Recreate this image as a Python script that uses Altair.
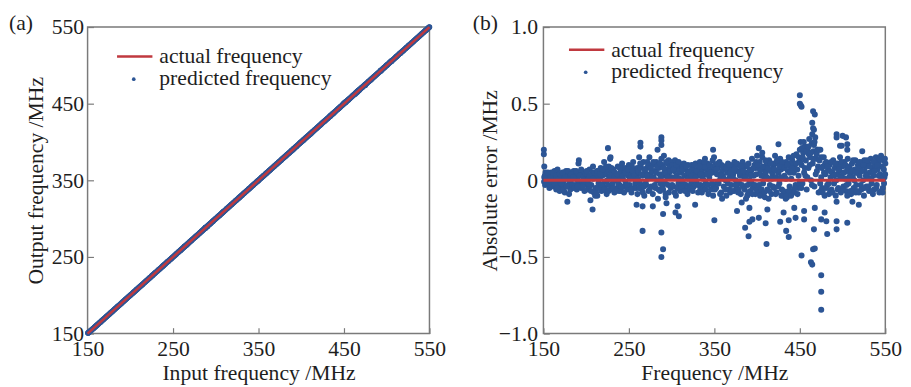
import altair as alt
import pandas as pd

FONT = "Liberation Serif"
BLUE = "#2c5595"
RED = "#c0393f"
FRAME = "#7a7a7a"
TXT = "#1e1e1e"

# actual frequency line (input = output)
actual_x = [150, 550]
tick_vals_x = [150, 250, 350, 450, 550]
tick_vals_err = [-1.0, -0.5, 0, 0.5, 1.0]

# predicted points: (input frequency MHz, absolute error MHz)
seg_150_200 = [(150.5,0.20),(150.5,0.17),(151,0.09),(151,0.02),(152,-0.03),(153,0.01),(154,0.04),(155,-0.01),(156,0.03),(157,-0.05),
    (158,0.00),(159,0.05),(160,-0.02),(161,0.02),(162,-0.04),(163,0.06),(164,0.01),(165,-0.06),(166,0.03),(167,-0.02),
    (168,0.04),(169,-0.07),(170,0.02),(152.5,0.05),(154.5,-0.02),(156.5,0.0),(158.5,-0.04),(160.5,0.04),(162.5,0.01),
    (164.5,-0.03),(166.5,0.07),(168.5,0.0),(171,-0.05),(172,0.03),(173,-0.01),(174,0.05),(175,-0.08),(176,0.01),(177,0.03),
    (178,-0.14),(178.5,-0.03),(179,0.04),(180,-0.09),(181,0.02),(182,-0.02),(183,0.05),(184,-0.05),(185,0.01),(186,0.04),
    (187,-0.03),(188,0.02),(189,-0.06),(190,0.0),(191,0.11),(191.5,0.13),(192,-0.02),(193,0.04),(194,-0.05),(195,0.03),
    (196,-0.01),(197,0.05),(198,-0.07),(199,0.02),(200,-0.03),(172.5,-0.03),(176.5,0.06),(181.5,-0.06),(185.5,0.06),
    (189.5,0.03),(195.5,-0.04),
    (150.8,-0.01),(151.7,0.03),(153.3,-0.02),(155.2,0.05),(156.8,-0.03),(158.2,0.02),(159.7,-0.01),(161.3,0.05),
    (163.2,-0.02),(164.8,0.03),(166.2,-0.05),(167.7,0.01),(169.3,0.04),(170.8,-0.02),(172.2,0.05),(173.7,-0.06),
    (175.3,0.02),(177.2,-0.04),(178.8,0.06),(180.3,0.0),(182.2,0.04),(183.7,-0.03),(184.8,0.02),(186.7,-0.05),
    (188.3,0.06),(190.2,-0.04),(192.7,0.03),(194.2,0.07),(196.7,0.02),(198.3,-0.01),(199.7,0.04)]
seg_200_260 = [(201,0.04),(202,-0.06),(203,0.01),(204,0.07),(205,-0.13),(206,-0.03),(207,0.05),(207.5,-0.19),(208,0.09),
    (209,-0.08),(210,0.02),(211,-0.05),(212,0.03),(213,-0.1),(214,0.06),(215,-0.02),(216,0.01),(217,0.08),(218,-0.07),
    (219,0.03),(220,-0.04),(221,0.12),(222,-0.01),(223,0.04),(224,-0.09),(225,0.06),(225.5,0.21),(226,-0.03),(227,0.02),
    (228,0.14),(228.5,0.15),(229,-0.06),(230,0.05),(203.5,-0.04),(206.5,0.02),(210.5,-0.1),(214.5,-0.02),(218.5,0.05),
    (222.5,-0.06),(226.5,0.09),(231,-0.02),(232,0.07),(233,-0.08),(234,0.03),(235,0.0),(236,-0.05),(237,0.09),(238,0.02),
    (239,-0.03),(240,0.05),(241,-0.07),(242,0.11),(243,0.01),(244,-0.04),(245,0.06),(246,-0.01),(247,0.08),(248,-0.06),
    (249,0.03),(250,0.1),(251,-0.03),(252,0.05),(253,-0.08),(254,0.02),(255,0.12),(256,-0.05),(257,0.07),(258,0.0),
    (259,0.04),(259,-0.16),(260,-0.09),(233.5,0.05),(238.5,-0.07),(243.5,0.08),(248.5,0.04),(253.5,0.09),(257.5,-0.02),
    (200.6,0.06),(202.4,-0.02),(204.3,0.03),(205.7,-0.07),(207.8,0.01),(209.4,0.05),(211.6,-0.08),(212.8,0.06),
    (214.2,-0.05),(216.3,0.04),(217.7,-0.03),(219.6,0.07),(221.4,-0.06),(223.2,0.09),(224.6,0.0),(226.2,-0.07),
    (228.7,0.03),(229.6,0.08),(231.4,-0.05),(232.8,0.02),(234.6,-0.07),(236.3,0.04),(237.7,-0.02),(239.4,0.08),
    (240.8,-0.04),(242.6,0.03),(244.3,-0.08),(246.4,0.05),(247.8,-0.03),(249.6,0.07),(251.3,0.01),(252.7,-0.06),
    (254.4,0.06),(256.3,0.03),(258.6,-0.05),(259.8,0.08)]
seg_260_300 = [(261,0.06),(262,0.15),(263,-0.02),(263.5,0.245),(263.5,0.22),(264,0.09),(265,-0.06),(266,0.03),(266,-0.33),
    (266,-0.17),(267,0.12),(268,-0.1),(269,0.05),(270,-0.03),(271,0.08),(272,0.01),(273,-0.07),(274,0.15),(275,0.04),
    (276,-0.04),(277,0.1),(278,-0.09),(278,-0.17),(279,0.02),(280,0.06),(281,-0.05),(282,0.12),(283,0.0),(283.5,0.20),
    (284,-0.12),(285,0.08),(286,0.04),(287,-0.02),(288,0.14),(288,0.28),(288,0.26),(288,0.23),(288,-0.34),(288,-0.50),
    (289,0.1),(290,-0.06),(290,-0.45),(290,-0.22),(291,0.16),(292,0.03),(293,-0.09),(293,-0.11),(294,-0.15),(294,0.07),
    (295,0.11),(296,-0.03),(297,0.05),(298,0.09),(299,-0.05),(300,0.02),(263.5,0.08),(267.5,-0.04),(271.5,0.12),
    (276.5,0.06),(281.5,0.1),(286.5,-0.07),(291.5,0.05),(296.5,0.13),
    (260.6,0.01),(261.8,-0.05),(263.2,0.11),(264.7,0.04),(266.3,-0.08),(268.4,0.07),(269.7,-0.02),(271.2,0.03),
    (272.6,0.1),(274.3,-0.06),(275.7,0.08),(277.4,0.02),(278.6,0.12),(280.3,-0.03),(281.8,0.05),(283.3,0.09),
    (284.7,-0.06),(286.2,0.11),(287.6,0.02),(289.3,-0.04),(290.7,0.08),(292.4,-0.02),(293.6,0.12),(295.3,0.02),
    (296.8,-0.08),(298.4,0.06),(299.6,0.12)]
seg_300_350 = [(301,0.1),(302,-0.04),(303,0.06),(304,0.13),(304.5,-0.21),(305,-0.1),(306,0.03),(307,0.08),(307,-0.17),
    (308,-0.02),(308.5,-0.235),(309,0.11),(310,-0.07),(311,0.05),(312,0.0),(313,0.09),(314,-0.05),(315,0.03),(316,0.07),
    (317,-0.03),(318,0.04),(319,0.1),(320,-0.06),(321,0.02),(322,0.06),(323,-0.02),(324,0.08),(325,0.01),(326,-0.04),
    (327,0.05),(327.5,-0.16),(328,0.11),(329,-0.01),(330,0.07),(331,-0.08),(332,0.03),(333,0.12),(334,-0.03),(335,0.06),
    (336,0.09),(337,-0.05),(338,0.04),(339,0.14),(340,-0.02),(341,0.07),(342,0.11),(343,-0.09),(344,0.02),(345,0.08),
    (346,-0.06),(347,0.05),(348,0.13),(348.5,0.20),(349,-0.03),(350,0.06),(350,-0.26),(303.5,-0.08),(308.5,0.06),
    (313.5,-0.02),(318.5,-0.09),(323.5,0.1),(328.5,0.04),(333.5,-0.06),(338.5,0.09),(343.5,0.05),(348.5,-0.1),
    (300.6,-0.03),(302.3,0.07),(303.8,0.02),(305.4,0.1),(306.7,-0.05),(308.2,0.12),(309.6,0.01),(311.3,-0.04),
    (312.7,0.07),(314.4,0.11),(315.7,-0.07),(317.3,0.09),(318.8,0.01),(320.4,0.05),(321.7,-0.05),(323.3,0.03),
    (324.7,-0.07),(326.4,0.1),(327.8,0.02),(329.4,0.06),(330.7,-0.03),(332.3,0.09),(333.8,0.04),(335.4,-0.08),
    (336.7,0.01),(338.3,0.12),(339.7,-0.06),(341.4,0.04),(342.8,-0.03),(344.4,0.1),(345.7,0.05),(347.3,-0.02),
    (348.8,0.09),(349.6,0.15)]
seg_350_400 = [(351,0.1),(352,-0.05),(353,0.04),(354,0.08),(355,-0.02),(356,0.12),(357,0.01),(358,-0.08),(359,0.06),
    (359,-0.12),(360,0.03),(361,-0.04),(362,0.09),(363,0.0),(364,-0.1),(365,0.05),(366,0.11),(367,-0.06),(368,0.02),
    (369,0.07),(370,-0.03),(371,0.1),(372,0.04),(373,-0.07),(374,0.08),(375,0.0),(376,-0.05),(376.5,-0.20),(377,0.06),
    (378,0.1),(379,-0.02),(380,0.03),(381,-0.09),(382,0.07),(382,-0.145),(383,0.12),(384,-0.04),(385,0.02),(386,0.09),
    (386,-0.31),(387,-0.12),(388,0.05),(389,-0.03),(390,0.11),(390,-0.365),(391,0.0),(391,-0.18),(391,-0.27),(392,-0.07),
    (393,0.06),(394,0.14),(394.5,-0.255),(395,-0.05),(396,0.03),(397,0.1),(398,-0.09),(399,0.04),(400,0.16),
    (353.5,-0.01),(358.5,0.1),(363.5,0.07),(368.5,-0.08),(373.5,0.12),(378.5,-0.06),(383.5,0.03),(388.5,-0.1),
    (393.5,-0.02),(398.5,0.08),
    (350.7,-0.06),(352.3,0.07),(353.8,0.11),(355.4,0.04),(356.7,-0.09),(358.3,0.03),(359.8,0.09),(361.4,0.01),
    (362.7,-0.06),(364.3,0.08),(365.8,-0.02),(367.4,0.1),(368.8,0.05),(370.4,-0.07),(371.7,0.02),(373.3,0.07),
    (374.7,-0.03),(376.3,0.11),(377.8,-0.08),(379.4,0.05),(380.7,0.09),(382.3,-0.03),(383.8,0.06),(385.4,-0.06),
    (386.7,0.02),(388.3,0.1),(389.7,-0.08),(391.4,0.07),(392.8,0.03),(394.4,-0.09),(395.7,0.08),(397.3,-0.03),
    (398.8,0.12),(399.6,-0.06)]
seg_400_450 = [(401,-0.04),(402,0.08),(402,0.21),(402,-0.245),(403,0.12),(404,-0.08),(405,0.03),(406,0.15),(406,0.18),
    (407,-0.02),(408,0.07),(409,-0.11),(410,0.05),(410,-0.28),(411,0.1),(411,-0.415),(412,-0.06),(412,-0.19),(413,0.01),
    (414,0.13),(415,-0.03),(416,0.06),(417,-0.09),(418,0.04),(419,0.09),(420,-0.05),(421,0.16),(422,0.02),(423,-0.08),
    (424,0.11),(425,0.05),(425,0.235),(426,-0.02),(427,0.14),(427,-0.27),(428,0.07),(429,-0.06),(430,0.1),(431,-0.1),
    (431,-0.21),(432,0.03),(433,-0.09),(434,0.12),(434,-0.33),(435,-0.11),(436,0.06),(437,0.15),(437,-0.37),(437,-0.26),
    (438,-0.04),(439,0.09),(440,0.01),(441,0.13),(442,-0.07),(443,0.05),(443.5,-0.18),(444,0.1),(445,-0.03),(445,-0.245),
    (446,0.17),(447,0.07),(448,-0.05),(449,0.12),(450,0.2),(403.5,-0.1),(408.5,0.02),(413.5,-0.12),(418.5,0.11),
    (423.5,0.06),(428.5,-0.1),(433.5,-0.12),(434.5,-0.1),(438.5,0.11),(443.5,-0.08),(448.5,0.03),
    (400.6,0.1),(402.4,-0.03),(403.7,0.06),(405.3,-0.06),(406.8,0.09),(408.3,-0.08),(409.7,0.13),(411.4,0.02),
    (412.8,0.08),(414.3,-0.07),(415.7,0.11),(417.3,0.01),(418.7,-0.04),(420.3,0.07),(421.7,-0.09),(423.3,0.13),
    (424.7,-0.04),(426.3,0.09),(427.7,0.02),(429.3,0.12),(430.7,-0.07),(432.3,0.08),(433.8,0.01),(435.3,0.1),
    (436.8,-0.07),(438.3,0.05),(439.7,-0.1),(441.3,0.08),(442.7,0.16),(444.3,-0.05),(445.7,0.11),(447.3,-0.09),
    (448.8,0.15),(449.6,-0.02)]
seg_450_480 = [(450,0.555),(450,0.50),(452,0.48),(451,0.49),(452,-0.49),(451,0.25),(452,0.1),(453,-0.02),(454,0.18),
    (455,0.05),(455,-0.255),(455,-0.20),(456,0.22),(457,0.13),(458,-0.06),(459,0.2),(460,0.08),(461,0.27),(462,0.15),
    (463,0.0),(463,-0.535),(464.5,-0.55),(464,0.24),(464.5,0.375),(465,0.11),(465.5,-0.45),(467.5,-0.445),(465.5,0.45),
    (467.5,0.43),(465.5,0.34),(466.5,0.33),(466.5,-0.32),(466,0.19),(467,-0.04),(467.5,-0.18),(468,0.28),(469,0.14),
    (470,0.06),(471,0.2),(472,-0.08),(473,0.13),(474,0.2),(475,0.02),(475,-0.62),(475,-0.727),(475,-0.845),(475,-0.255),
    (475,0.15),(476,-0.05),(477,0.09),(478,0.15),(479,-0.1),(479,-0.21),(480,0.04),(452.5,0.21),(456.5,0.03),
    (460.5,0.17),(464.5,0.3),(466.5,0.23),(470.5,0.2),(474.5,-0.07),
    (450.6,0.12),(451.7,-0.05),(453.3,0.15),(454.6,0.25),(455.8,0.08),(457.3,0.19),(458.7,0.02),(460.2,0.22),
    (461.6,0.1),(462.8,0.18),(464.2,-0.03),(465.7,0.14),(467.2,0.25),(468.6,0.04),(469.7,0.17),(471.3,0.09),
    (472.6,0.2),(473.8,-0.02),(475.6,0.08),(476.8,-0.08),(478.3,0.05),(479.6,0.11)]
seg_480_550 = [(481,0.12),(481,-0.267),(482,-0.03),(482,-0.35),(483,0.07),(484,-0.09),(485,0.1),(486,0.02),(487,-0.06),
    (488,0.05),(489,0.13),(490,-0.02),(491,0.08),(492,-0.1),(493,0.04),(493,-0.14),(493,-0.267),(493,-0.32),(493,0.30),
    (493,0.28),(494,0.11),(495,-0.05),(496,0.06),(497,0.15),(497,0.225),(498,-0.08),(499,0.03),(500,0.09),(500,0.29),
    (499,0.225),(501,-0.04),(502,0.12),(503,0.01),(504,-0.07),(504,0.28),(505.5,0.235),(505.5,0.20),(505.5,-0.277),
    (505,0.06),(506,0.14),(507,-0.02),(508,0.09),(509,0.04),(510,-0.09),(511,0.11),(511.5,-0.14),(512,0.02),(513,-0.05),
    (514,0.07),(515,0.13),(516,-0.03),(517,0.05),(518,0.1),(519,-0.08),(519,-0.16),(520,0.03),(521,0.08),(522,-0.06),
    (523,0.12),(523,0.19),(524,0.0),(525,-0.1),(526,0.06),(527,0.09),(528,-0.04),(529,0.02),(530,0.11),(531,-0.07),
    (532,0.05),(533,0.14),(534,-0.02),(535,0.08),(536,0.03),(537,-0.06),(538,0.1),(539,0.15),(540,-0.03),(541,0.07),
    (542,0.12),(543,-0.08),(544,0.04),(545,0.16),(546,0.09),(547,-0.05),(548,0.13),(549,0.02),(550,0.11),(485.5,-0.07),
    (495.5,0.1),(505.5,-0.1),(515.5,-0.08),(525.5,0.13),(535.5,-0.09),(545.5,-0.07),(548.5,-0.02),
    (480.6,-0.05),(482.3,0.09),(483.7,-0.02),(485.3,0.06),(486.7,0.12),(488.3,-0.08),(489.7,0.03),(491.3,0.11),
    (492.7,0.0),(494.3,-0.06),(495.8,0.07),(497.3,0.02),(498.7,0.12),(500.3,-0.06),(501.7,0.05),(503.3,0.1),
    (504.7,-0.03),(506.3,0.08),(507.7,0.02),(509.3,-0.07),(510.7,0.06),(512.3,0.13),(513.7,0.0),(515.3,0.05),
    (516.7,-0.07),(518.3,0.08),(519.7,0.12),(521.3,-0.03),(522.7,0.06),(524.3,0.1),(525.8,-0.05),(527.3,0.03),
    (528.7,0.13),(530.3,-0.04),(531.7,0.09),(533.3,0.01),(534.7,-0.07),(536.3,0.12),(537.7,0.06),(539.3,-0.05),
    (540.7,0.1),(542.3,0.03),(543.7,0.14),(545.3,0.01),(546.7,-0.08),(548.3,0.07),(549.5,0.14),(549.8,0.04)]

segments = [seg_150_200, seg_200_260, seg_260_300, seg_300_350, seg_350_400, seg_400_450, seg_450_480, seg_480_550]
rows = [p for s in segments for p in s]
pts = pd.DataFrame(rows, columns=["freq", "err"])
pts["out"] = pts["freq"] + pts["err"]
line_a = pd.DataFrame({"x": actual_x, "y": actual_x})
line_b = pd.DataFrame({"x": actual_x, "y": [0, 0]})
one = pd.DataFrame({"k": [0]})

W, H = 348, 312


def label_axis(title, values, fmt_expr=None, orient="bottom", lp=6, tp=2):
    kw = dict(values=values, title=title, ticks=False, domain=False, grid=False, labelFlush=False,
              labelPadding=lp, titlePadding=tp, orient=orient)
    if fmt_expr:
        kw["labelExpr"] = fmt_expr
    return alt.Axis(**kw)


def tick_axis(values, orient, offset):
    return alt.Axis(values=values, title=None, labels=False, domain=False, grid=False,
                    ticks=True, tickSize=6, tickWidth=1.2, tickColor=FRAME, orient=orient, offset=offset)


def legend_layers(lx, ly, dy):
    rule = alt.Chart(one).mark_rule(color=RED, strokeWidth=2.5).encode(
        x=alt.value(lx), x2=alt.value(lx + 36), y=alt.value(ly))
    dot = alt.Chart(one).mark_circle(color=BLUE, size=14, opacity=1).encode(
        x=alt.value(lx + 17), y=alt.value(ly + dy + 1))
    t1 = alt.Chart(one).mark_text(align="left", baseline="middle", font=FONT, fontSize=22, color=TXT).encode(
        x=alt.value(lx + 43), y=alt.value(ly), text=alt.value("actual frequency"))
    t2 = alt.Chart(one).mark_text(align="left", baseline="middle", font=FONT, fontSize=22, color=TXT).encode(
        x=alt.value(lx + 43), y=alt.value(ly + dy), text=alt.value("predicted frequency"))
    return [rule, dot, t1, t2]


def panel_label(txt, x):
    return alt.Chart(one).mark_text(align="left", baseline="middle", font=FONT, fontSize=22, color=TXT).encode(
        x=alt.value(x), y=alt.value(-4), text=alt.value(txt))


sx = alt.Scale(domain=[150, 550], nice=False, zero=False)

# panel (a)
pa_pts = alt.Chart(pts).mark_circle(size=32, color=BLUE, opacity=1).encode(
    x=alt.X("freq:Q", scale=sx, axis=label_axis("Input frequency /MHz", tick_vals_x, lp=5, tp=4)),
    y=alt.Y("out:Q", scale=alt.Scale(domain=[150, 550], nice=False, zero=False),
            axis=label_axis("Output frequency /MHz", tick_vals_x, orient="left", lp=4, tp=4)),
)
pa_line = alt.Chart(line_a).mark_line(color=RED, strokeWidth=2.5).encode(
    x=alt.X("x:Q", axis=tick_axis(tick_vals_x, "top", -H)),
    y=alt.Y("y:Q", axis=tick_axis(tick_vals_x, "right", -W)),
)
panel_a = alt.layer(pa_pts, pa_line, *legend_layers(30, 30, 22), panel_label("(a)", -80)).resolve_axis(
    x="independent", y="independent").properties(width=W, height=H)

# panel (b)
pb_pts = alt.Chart(pts).mark_circle(size=38, color=BLUE, opacity=1).encode(
    x=alt.X("freq:Q", scale=sx, axis=label_axis("Frequency /MHz", tick_vals_x, lp=5, tp=4)),
    y=alt.Y("err:Q", scale=alt.Scale(domain=[-1, 1], nice=False, zero=False),
            axis=label_axis("Absolute error /MHz", tick_vals_err,
                            fmt_expr="datum.value == 0 ? '0' : format(datum.value, '.1f')",
                            orient="left", lp=6, tp=-3)),
)
pb_line = alt.Chart(line_b).mark_line(color=RED, strokeWidth=3).encode(
    x=alt.X("x:Q", axis=tick_axis(tick_vals_x, "top", -H)),
    y=alt.Y("y:Q", axis=tick_axis(tick_vals_err, "right", -W)),
)
panel_b = alt.layer(pb_pts, pb_line, *legend_layers(26, 23, 22), panel_label("(b)", -72)).resolve_axis(
    x="independent", y="independent").properties(width=W, height=H)

chart = alt.hconcat(panel_a, panel_b, spacing=25).configure_view(
    stroke=FRAME, strokeWidth=1.5
).configure_axis(
    labelFont=FONT, labelFontSize=22, labelColor=TXT,
    titleFont=FONT, titleFontSize=22, titleColor=TXT, titleFontWeight="normal",
).properties(background="white", padding=0)

chart.save("out.html", embed_options={"renderer": "svg", "actions": False})
